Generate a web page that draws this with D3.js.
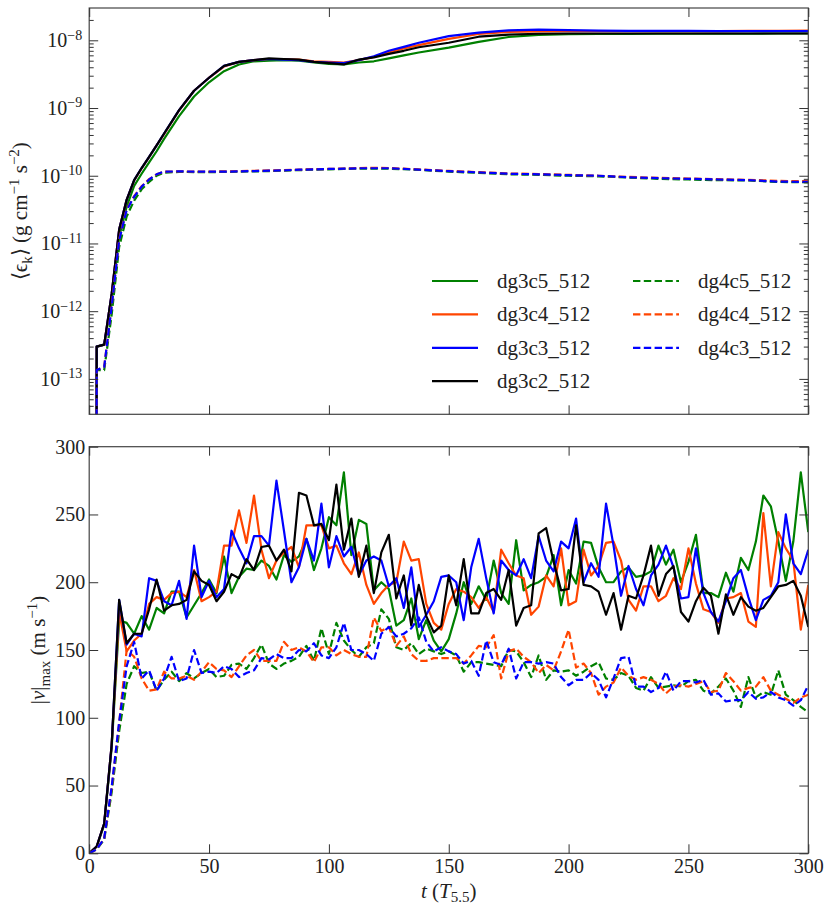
<!DOCTYPE html>
<html>
<head>
<meta charset="utf-8">
<script src="https://cdn.jsdelivr.net/npm/d3@7"></script>
<style>
  body { margin: 0; background: #fff; }
</style>
</head>
<body>
<svg id="fig" width="831" height="913"></svg>
<script>
// series names, drawn in this order (solid runs first, then dashed)
const names = ["dg3c5_512", "dg3c4_512", "dg3c3_512", "dg3c2_512", "dg4c5_512", "dg4c4_512", "dg4c3_512"];
const colors = ["#008000", "#ff4500", "#0000ff", "#000000", "#008000", "#ff4500", "#0000ff"];
const dashed = [false, false, false, false, true, true, true];

// output times of |v|max (T_5.5)
const dt = 3.125;
const times = d3.range(97).map(i => i * dt);

// |v|max (m/s)
const vG3c5 = [0,5,21,78,172,170,162,175,165,181,177,193,193,174,183,192,202,192,219,192,204,210,209,216,212,202,220,215,219,232,209,225,248,242,281,220,246,243,194,
  200,195,168,172,188,158,172,157,149,158,
  177,200,184,197,187,216,192,184,231,194,198,200,204,220,183,209,199,230,229,211,200,200,208,211,204,
  205,208,227,213,224,200,215,235,192,192,189,207,193,218,209,230,264,256,230,201,230,281,237];
const vG3c4 = [0,5,22,80,178,149,157,162,184,189,187,192,193,189,209,186,189,193,227,227,253,229,264,224,203,
  216,222,226,211,242,242,242,225,227,214,206,222,198,184,192,198,200,230,216,217,184,170,165,184,
  195,193,189,181,189,178,224,214,205,203,176,182,205,197,225,183,186,224,205,212,229,230,216,187,179,
  197,197,186,190,203,195,225,199,180,178,170,188,189,192,171,167,251,197,237,225,216,165,198];
const vG3c3 = [0,5,22,80,187,154,162,160,203,201,186,183,201,173,227,189,201,189,195,238,225,214,234,234,227,275,
  238,200,211,232,216,258,211,234,219,226,205,216,219,216,197,203,181,211,167,176,186,204,205,
  200,172,211,232,203,177,216,209,205,217,203,234,216,208,230,225,247,200,214,204,258,227,190,212,195,
  183,205,213,227,211,188,189,225,192,178,171,186,203,209,189,172,187,190,200,250,214,206,224];
const vG3c2 = [0,5,22,80,187,155,162,162,180,202,179,183,184,187,208,201,198,186,193,206,203,217,209,226,227,
  216,224,208,266,264,242,243,231,272,224,247,204,227,192,222,235,188,205,168,198,175,163,168,205,
  183,217,177,177,192,195,187,209,168,181,183,236,240,215,194,195,242,198,197,193,176,192,165,190,188,
  205,227,190,206,212,178,171,186,196,190,162,191,176,189,182,179,181,189,197,198,201,190,167];
const vG4c5 = [0,3,10,45,90,125,
  138,133,134,120,128,134,127,133,129,133,136,130,131,139,140,136,144,154,140,
  136,140,142,145,153,142,166,147,170,157,150,145,152,155,180,173,152,150,155,147,151,149,147,149,
  146,134,141,141,140,139,138,150,149,141,130,146,128,135,134,135,131,134,138,141,129,128,133,131,122,
  120,130,122,123,124,123,127,128,120,118,123,129,120,108,130,115,119,117,135,117,113,108,104];
const vG4c4 = [0,3,11,48,96,150,
  145,129,120,121,134,129,129,131,128,134,141,136,135,130,138,146,150,142,142,
  142,156,150,152,149,141,152,152,146,150,147,145,145,174,164,167,153,160,147,142,142,144,144,144,
  144,140,146,153,152,161,129,149,151,145,141,133,139,135,149,165,137,140,133,117,123,126,137,131,128,
  130,128,125,118,123,124,123,125,127,119,120,133,127,120,122,123,130,120,117,114,111,115,117];
const vG4c3 = [0,3,11,49,97,138,
  156,129,135,120,129,145,127,129,150,133,134,133,138,136,130,133,135,144,143,
  147,144,144,150,149,155,146,144,152,170,150,150,147,142,162,167,160,162,166,174,156,149,152,149,
  147,140,142,131,157,141,139,151,129,141,141,140,141,140,130,124,128,128,133,128,115,129,144,145,123,
  123,119,122,134,120,127,127,126,128,117,118,112,113,113,119,114,115,119,115,113,109,113,124];

// times used for the mean kinetic energy
const tE = [0,3.125,6.25,9.375,12.5,15.625,18.75,21.875,25,28.125,31.25,37.5,43.75,50,56.25,62.5,68.75,75,81.25,87.5,93.75,
  100,106.25,112.5,118.75,125,131.25,137.5,150,162.5,175,187.5,200,212.5,225,237.5,250,262.5,275,287.5,300];

// <eps_k> (g cm^-1 s^-2)
const eG3c5 = [0,3.0e-13,3.2e-13,1.4e-12,1.26e-11,3.5e-11,7.1e-11,1.07e-10,1.58e-10,2.3e-10,3.5e-10,7.6e-10,1.48e-9,2.4e-9,3.5e-9,4.4e-9,4.9e-9,5.0e-9,5.1e-9,5.0e-9,4.7e-9,
  4.5e-9,4.4e-9,4.7e-9,4.9e-9,5.4e-9,6.0e-9,6.6e-9,7.8e-9,9.5e-9,1.12e-8,1.2e-8,1.23e-8,1.24e-8,1.24e-8,1.25e-8,1.25e-8,1.25e-8,1.25e-8,1.26e-8,1.26e-8];
const eG3c4 = [0,3.0e-13,3.2e-13,1.8e-12,1.6e-11,4.4e-11,8.5e-11,1.28e-10,1.88e-10,2.8e-10,4.1e-10,9.2e-10,1.8e-9,2.8e-9,4.1e-9,4.8e-9,5.1e-9,5.3e-9,5.3e-9,5.2e-9,4.9e-9,
  4.8e-9,4.7e-9,5.1e-9,5.7e-9,6.6e-9,7.6e-9,8.5e-9,1.05e-8,1.24e-8,1.33e-8,1.35e-8,1.36e-8,1.36e-8,1.36e-8,1.37e-8,1.37e-8,1.37e-8,1.38e-8,1.38e-8,1.39e-8];
const eG3c3 = [0,3.0e-13,3.2e-13,1.8e-12,1.6e-11,4.4e-11,8.6e-11,1.3e-10,1.9e-10,2.8e-10,4.2e-10,9.3e-10,1.8e-9,2.8e-9,4.2e-9,4.8e-9,5.1e-9,5.3e-9,5.2e-9,5.1e-9,4.8e-9,
  4.7e-9,4.6e-9,5.1e-9,5.8e-9,7.0e-9,8.0e-9,9.2e-9,1.15e-8,1.3e-8,1.4e-8,1.44e-8,1.41e-8,1.39e-8,1.38e-8,1.38e-8,1.38e-8,1.37e-8,1.37e-8,1.37e-8,1.37e-8];
const eG3c2 = [0,3.0e-13,3.2e-13,1.8e-12,1.6e-11,4.4e-11,8.6e-11,1.3e-10,1.9e-10,2.8e-10,4.2e-10,9.3e-10,1.8e-9,2.8e-9,4.2e-9,4.8e-9,5.1e-9,5.4e-9,5.3e-9,5.2e-9,4.8e-9,
  4.6e-9,4.4e-9,5.2e-9,5.6e-9,6.3e-9,7.0e-9,7.9e-9,9.2e-9,1.13e-8,1.21e-8,1.25e-8,1.26e-8,1.26e-8,1.26e-8,1.26e-8,1.26e-8,1.26e-8,1.26e-8,1.26e-8,1.26e-8];
const eG4c5 = [0,1.35e-13,1.35e-13,8.9e-13,8.9e-12,2.5e-11,4.3e-11,6.3e-11,8.1e-11,1.0e-10,1.11e-10,1.14e-10,1.13e-10,1.13e-10,1.14e-10,1.15e-10,1.16e-10,1.17e-10,1.19e-10,1.21e-10,1.23e-10,
  1.24e-10,1.26e-10,1.27e-10,1.28e-10,1.27e-10,1.25e-10,1.22e-10,1.15e-10,1.10e-10,1.05e-10,1.03e-10,1.0e-10,9.8e-11,9.4e-11,9.0e-11,8.8e-11,8.6e-11,8.5e-11,8.1e-11,8.0e-11];
const eG4c4 = [0,1.35e-13,1.5e-13,1.2e-12,1.15e-11,3.2e-11,5.0e-11,7.0e-11,8.9e-11,1.05e-10,1.15e-10,1.16e-10,1.15e-10,1.15e-10,1.16e-10,1.17e-10,1.18e-10,1.2e-10,1.21e-10,1.23e-10,1.25e-10,
  1.26e-10,1.28e-10,1.3e-10,1.31e-10,1.3e-10,1.27e-10,1.24e-10,1.18e-10,1.13e-10,1.08e-10,1.06e-10,1.03e-10,1.0e-10,9.6e-11,9.3e-11,9.1e-11,8.9e-11,8.7e-11,8.4e-11,8.3e-11];
const eG4c3 = [0,1.35e-13,1.5e-13,1.17e-12,1.12e-11,3.1e-11,4.9e-11,6.9e-11,8.8e-11,1.05e-10,1.15e-10,1.16e-10,1.15e-10,1.15e-10,1.15e-10,1.16e-10,1.17e-10,1.19e-10,1.2e-10,1.23e-10,1.24e-10,
  1.26e-10,1.27e-10,1.29e-10,1.29e-10,1.29e-10,1.26e-10,1.23e-10,1.17e-10,1.12e-10,1.07e-10,1.05e-10,1.02e-10,1.0e-10,9.5e-11,9.2e-11,9.0e-11,8.8e-11,8.6e-11,8.2e-11,8.1e-11];

const energy = [eG3c5, eG3c4, eG3c3, eG3c2, eG4c5, eG4c4, eG4c3];
const vmax = [vG3c5, vG3c4, vG3c3, vG3c2, vG4c5, vG4c4, vG4c3];

const xTicks = [0, 50, 100, 150, 200, 250, 300];
const vTicks = [0, 50, 100, 150, 200, 250, 300];
const eTicks = [1e-13, 1e-12, 1e-11, 1e-10, 1e-9, 1e-8];

const svg = d3.select("#fig");
const serif = "Liberation Serif";
const left = 89.2, right = 808.3;
const top1 = 8, bot1 = 414.3, top2 = 446.7, bot2 = 853.3;
const fs = 20;

const x = d3.scaleLinear().domain([0, 300]).range([left, right]);
const yE = d3.scaleLog().domain([3e-14, 3e-8]).range([bot1, top1]);
const yV = d3.scaleLinear().domain([0, 300]).range([bot2, top2]);

// minor log ticks 2..9 x 10^k
const eMinor = [];
for (let k = -14; k <= -8; k++) {
  for (let m = 2; m <= 9; m++) {
    const v = m * Math.pow(10, k);
    if (v > 3e-14 && v < 3e-8) eMinor.push(v);
  }
}

const defs = svg.append("defs");
defs.append("clipPath").attr("id", "clipE").append("rect")
  .attr("x", left).attr("y", top1).attr("width", right - left).attr("height", bot1 - top1);
defs.append("clipPath").attr("id", "clipV").append("rect")
  .attr("x", left).attr("y", top2).attr("width", right - left).attr("height", bot2 - top2);

// lines; zeros on the log axis are clipped far below like matplotlib does
const lineE = d3.line().x((d, i) => x(tE[i])).y(d => yE(Math.max(d, 1e-100)));
const lineV = d3.line().x((d, i) => x(times[i])).y(d => yV(d));

function drawLines(g, data, line) {
  g.selectAll("path")
    .data(data)
    .join("path")
      .attr("d", d => line(d))
      .attr("fill", "none")
      .attr("stroke", (d, i) => colors[i])
      .attr("stroke-width", 2.2)
      .attr("stroke-linejoin", "round")
      .attr("stroke-dasharray", (d, i) => dashed[i] ? "7.4,3.4" : null);
}

drawLines(svg.append("g").attr("clip-path", "url(#clipE)"), energy, lineE);
drawLines(svg.append("g").attr("clip-path", "url(#clipV)"), vmax, lineV);

function styleAxis(g) {
  g.select(".domain").remove();
  g.attr("font-family", serif).attr("font-size", fs);
  g.selectAll(".tick line").attr("stroke", "#333").attr("stroke-width", 1);
  g.selectAll(".tick text").attr("fill", "#222");
}

// frames
[[top1, bot1], [top2, bot2]].forEach(p => {
  svg.append("rect")
    .attr("x", left).attr("y", p[0])
    .attr("width", right - left).attr("height", p[1] - p[0])
    .attr("fill", "none").attr("stroke", "#444").attr("stroke-width", 1.2);
});

// top panel axes
svg.append("g").attr("transform", `translate(0,${top1})`)
  .call(d3.axisTop(x).tickValues(xTicks).tickSize(-9).tickFormat("")).call(styleAxis);
svg.append("g").attr("transform", `translate(0,${bot1})`)
  .call(d3.axisBottom(x).tickValues(xTicks).tickSize(-9).tickFormat("")).call(styleAxis);

const eAxis = svg.append("g").attr("transform", `translate(${left},0)`)
  .call(d3.axisLeft(yE).tickValues(eTicks).tickSize(-9).tickPadding(7)).call(styleAxis);
eAxis.selectAll(".tick text").each(function(d) {
  const t = d3.select(this).text(null);
  t.append("tspan").text("10");
  t.append("tspan").attr("dy", -7.5).attr("font-size", 14)
    .text("\u2212" + Math.round(-Math.log10(d)));
});
svg.append("g").attr("transform", `translate(${left},0)`)
  .call(d3.axisLeft(yE).tickValues(eMinor).tickSize(-4.5).tickFormat("")).call(styleAxis);
svg.append("g").attr("transform", `translate(${right},0)`)
  .call(d3.axisRight(yE).tickValues(eTicks).tickSize(-9).tickFormat("")).call(styleAxis);
svg.append("g").attr("transform", `translate(${right},0)`)
  .call(d3.axisRight(yE).tickValues(eMinor).tickSize(-4.5).tickFormat("")).call(styleAxis);

// bottom panel axes
svg.append("g").attr("transform", `translate(0,${top2})`)
  .call(d3.axisTop(x).tickValues(xTicks).tickSize(-9).tickFormat("")).call(styleAxis);
svg.append("g").attr("transform", `translate(0,${bot2})`)
  .call(d3.axisBottom(x).tickValues(xTicks).tickSize(-9).tickPadding(6)).call(styleAxis);
svg.append("g").attr("transform", `translate(${left},0)`)
  .call(d3.axisLeft(yV).tickValues(vTicks).tickSize(-9).tickPadding(4)).call(styleAxis);
svg.append("g").attr("transform", `translate(${right},0)`)
  .call(d3.axisRight(yV).tickValues(vTicks).tickSize(-9).tickFormat("")).call(styleAxis);

// legend
const leg = svg.append("g");
names.forEach((n, i) => {
  const col = i < 4 ? 0 : 1;
  const row = i < 4 ? i : i - 4;
  const lx = col === 0 ? 432 : 633;
  const ly = 281 + row * 33.4;
  leg.append("line")
    .attr("x1", lx).attr("x2", lx + 46).attr("y1", ly).attr("y2", ly)
    .attr("stroke", colors[i]).attr("stroke-width", 2.2)
    .attr("stroke-dasharray", dashed[i] ? "7.4,3.4" : null);
  leg.append("text")
    .attr("x", lx + 65).attr("y", ly + 7)
    .attr("font-family", serif).attr("font-size", 21).attr("fill", "#222")
    .text(n);
});

// axis titles
const yt1 = svg.append("text")
  .attr("transform", `translate(27,${(top1 + bot1) / 2}) rotate(-90)`)
  .attr("text-anchor", "middle").attr("font-size", 21)
  .attr("font-family", serif).attr("fill", "#222");
yt1.append("tspan").text("\u27E8\u03F5");
yt1.append("tspan").attr("dy", 5).attr("font-size", 15).text("k");
yt1.append("tspan").attr("dy", -5).text("\u27E9 (g cm");
yt1.append("tspan").attr("dy", -8).attr("font-size", 15).text("\u22121");
yt1.append("tspan").attr("dy", 8).text(" s");
yt1.append("tspan").attr("dy", -8).attr("font-size", 15).text("\u22122");
yt1.append("tspan").attr("dy", 8).text(")");

const yt2 = svg.append("text")
  .attr("transform", `translate(45,${(top2 + bot2) / 2}) rotate(-90)`)
  .attr("text-anchor", "middle").attr("font-size", 21)
  .attr("font-family", serif).attr("fill", "#222");
yt2.append("tspan").text("|");
yt2.append("tspan").attr("font-style", "italic").text("v");
yt2.append("tspan").text("|");
yt2.append("tspan").attr("dy", 5).attr("font-size", 15).text("max");
yt2.append("tspan").attr("dy", -5).text(" (m s");
yt2.append("tspan").attr("dy", -8).attr("font-size", 15).text("\u22121");
yt2.append("tspan").attr("dy", 8).text(")");

const xt = svg.append("text")
  .attr("x", (left + right) / 2).attr("y", 898)
  .attr("text-anchor", "middle").attr("font-size", 21)
  .attr("font-family", serif).attr("fill", "#222");
xt.append("tspan").attr("font-style", "italic").text("t");
xt.append("tspan").text(" (");
xt.append("tspan").attr("font-style", "italic").text("T");
xt.append("tspan").attr("dy", 4).attr("font-size", 15).text("5.5");
xt.append("tspan").attr("dy", -4).text(")");
</script>
</body>
</html>
